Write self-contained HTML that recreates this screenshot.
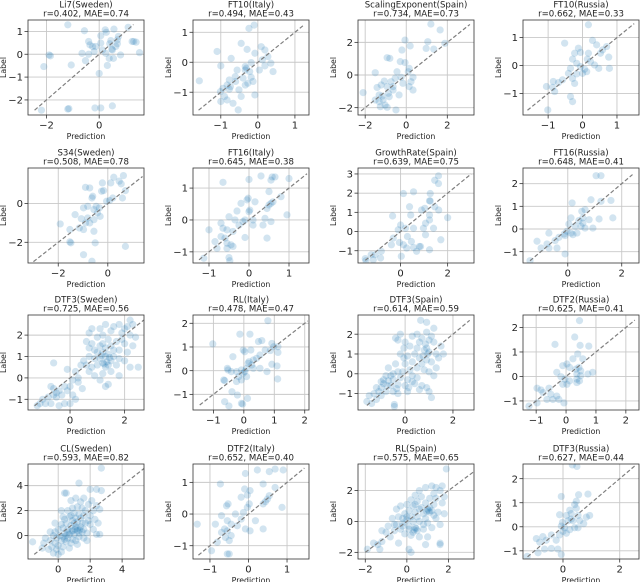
<!DOCTYPE html>
<html><head><meta charset="utf-8"><style>
html,body{margin:0;padding:0;background:#fff;}
svg{display:block;font-family:"DejaVu Sans","Liberation Sans",sans-serif;}
</style></head><body>
<svg id="fig" width="642" height="582" viewBox="0 0 642 582" xmlns="http://www.w3.org/2000/svg"></svg>
<script>
const titles=["Li7(Sweden)","FT10(Italy)","ScalingExponent(Spain)","FT10(Russia)","S34(Sweden)","FT16(Italy)","GrowthRate(Spain)","FT16(Russia)","DTF3(Sweden)","RL(Italy)","DTF3(Spain)","DTF2(Russia)","CL(Sweden)","DTF2(Italy)","RL(Spain)","DTF3(Russia)"];
const rValues=["0.402","0.494","0.734","0.662","0.508","0.645","0.639","0.648","0.725","0.478","0.614","0.625","0.593","0.652","0.575","0.627"];
const maeValues=["0.74","0.43","0.73","0.33","0.78","0.38","0.75","0.41","0.56","0.47","0.59","0.41","0.82","0.40","0.65","0.44"];
const xLims=[[-2.7,1.7],[-1.75,1.38],[-2.35,3.3],[-1.73,1.64],[-3.22,1.46],[-1.4,1.5],[-1.81,3.12],[-1.66,2.64],[-1.54,2.71],[-1.67,2.14],[-1.97,2.88],[-1.44,2.44],[-1.89,5.37],[-1.44,1.57],[-2.35,3.23],[-1.41,2.68]];
const yLims=[[-2.66,1.5],[-1.76,1.41],[-2.45,3.37],[-1.77,1.63],[-3.07,1.84],[-1.35,1.63],[-1.64,3.31],[-1.5,2.69],[-1.5,2.94],[-1.66,2.35],[-1.83,2.97],[-1.37,2.51],[-1.87,5.73],[-1.42,1.58],[-2.43,3.72],[-1.34,2.61]];
const xTicks=[[-2,0],[-1,0,1],[-2,0,2],[-1,0,1],[-2,0],[-1,0,1],[0,2],[0,2],[0,2],[-1,0,1,2],[0,2],[-1,0,1,2],[0,2,4],[-1,0,1],[-2,0,2],[0,2]];
const yTicks=[[-2,-1,0,1],[-1,0,1],[-2,0,2],[-1,0,1],[-2,0],[-1,0,1],[-1,0,1,2,3],[-1,0,1,2],[-1,0,1,2],[-1,0,1,2],[-1,0,1,2],[-1,0,1,2],[0,2,4],[-1,0,1],[-2,0,2],[-1,0,1,2]];
const diagRange=[[-2.45,1.3],[-1.6,1.25],[-2.2,3.1],[-1.6,1.5],[-3,1.4],[-1.25,1.45],[-1.5,3],[-1.4,2.4],[-1.3,2.7],[-1.45,2.1],[-1.6,2.7],[-1.25,2.3],[-1.5,5.4],[-1.3,1.45],[-2,3.4],[-1.25,2.55]];

const p1=[[-1.19,1.29],[-1.9,-0.03],[-1.85,-0.07],[-2.1,-0.54],[-2.19,-2.45],[-1.19,-2.4],[-1.15,-2.38],[-0.16,-2.35],[0.06,-2.35],[0.5,-2.26],[-1.06,-0.47],[-0.56,1.03],[-0.65,0.04],[-0.52,-0.28],[-0.4,0.56],[-0.35,0.41],[-0.25,0.34],[-0.4,0],[-0.19,0.12],[0,-0.84],[0.06,0.49],[0.06,0.81],[0.23,1.07],[0.27,0.96],[0.13,0.19],[0.25,0.04],[0.4,0.46],[0.48,0.22],[0.38,-0.18],[0.54,-0.18],[0.31,-0.49],[0.56,1.1],[0.69,0.46],[0.69,0.63],[0.73,0.78],[0.63,0.34],[0.5,0.19],[0.81,-0.03],[1.1,1.18],[1.25,0.56],[1.31,0.56],[1.4,0.53],[1.53,0.07],[-0.13,0.34],[0.44,0.6]];
const p2=[[-0.1,1.24],[-0.24,1.13],[-1.1,0.36],[-0.72,0.13],[-1,-0.12],[-1.58,-0.62],[-0.45,0.63],[-0.29,0.43],[0.09,0.52],[-0.08,0.3],[0.19,0.41],[0.35,-0.03],[0.12,0.08],[0.27,0.19],[0.41,-0.31],[0.19,-0.12],[0.04,-0.26],[-0.34,-0.14],[-0.31,-0.2],[-0.56,-0.26],[-0.61,-0.48],[-0.77,-0.59],[-0.83,-0.76],[-0.94,-0.87],[-0.77,-0.9],[-0.9,-1.14],[-1,-1.31],[-0.83,-1.26],[-0.67,-1.37],[-0.51,-0.92],[-0.34,-0.76],[-0.27,-0.7],[-0.4,-0.53],[-0.18,-0.5],[-0.13,-0.64],[-0.08,-1.09],[-0.45,-1.14],[-0.6,-0.64],[-0.74,-0.81],[-0.53,-1.59],[-1.01,-0.98],[-0.34,-0.26],[-0.22,-0.31],[-0.18,-0.01]];
const p3=[[1.2,3.12],[1.65,2.76],[1.05,2.04],[0.97,1.63],[1.34,1.59],[1.88,1.94],[-0.06,2.14],[0.19,1.78],[-0.93,1.06],[-0.8,1.02],[-0.21,1.53],[-0.29,0.82],[-0.06,0.76],[0.14,0.41],[0.1,0.2],[-0.45,0.2],[-0.25,-0.14],[-0.64,-0.71],[0.23,-0.41],[0.14,-0.71],[0.33,-0.92],[-0.16,-0.51],[-2.1,-1.08],[-1.51,0.14],[-1.07,-0.37],[-1.22,-0.61],[-1.42,-0.76],[-0.93,-0.71],[-1.32,-1.22],[-1.17,-1.29],[-1.13,-1.53],[-1.03,-1.84],[-1.26,-1.94],[-0.93,-1.98],[-0.5,-2.14],[-0.83,-1.33],[-0.64,-0.92],[-1.32,-1.63],[-1.51,-1.53],[-0.74,-0.41],[-0.54,-0.2],[-0.35,-1.22],[0.33,-0.14],[-0.87,-1.12]];
const p4=[[0.17,1.46],[-0.52,0.8],[0.29,0.9],[0.41,0.74],[0.7,0.68],[0.58,0.56],[0.52,0.44],[0.76,0.3],[0.78,-0.1],[0.35,0.02],[0.47,-0.1],[0.17,0.44],[-0.06,0.47],[-0.23,0.44],[-0.29,0.23],[-0.17,0.08],[-0.06,-0.04],[0.06,-0.13],[0.12,-0.22],[0,-0.28],[-0.17,-0.3],[-0.41,-0.28],[-0.29,-0.46],[-0.23,-0.64],[-0.58,-0.51],[-0.7,-0.61],[-0.85,-0.57],[-0.87,-0.78],[-1.05,-0.75],[-0.81,-0.93],[-0.35,-1.11],[-0.29,-1.29],[-1.01,-1.59],[0.23,0.14],[-0.12,0.62],[-0.35,-0.1],[0.14,0.23]];
const p5=[[0.63,1.45],[0.24,1.36],[0.46,1.16],[0.54,1.02],[-0.22,1.07],[-0.17,0.67],[-0.25,0.64],[-0.73,0.81],[-0.9,0.84],[0.12,1.07],[0.71,0.67],[0.59,0.29],[0.2,0.29],[-0.05,0.12],[-0.64,0.29],[-0.61,0.38],[-0.81,-0.14],[-0.47,-0.14],[-0.34,-0.22],[-0.98,-0.22],[-1.32,-0.57],[-1.07,-0.78],[-0.81,-0.74],[-0.56,-0.83],[-0.73,-1],[-0.9,-1],[-1.15,-1.26],[-1.92,-1.05],[-1.53,-1.34],[-0.98,-1.34],[-0.56,-1.43],[-1.49,-2.03],[-1.53,-1.98],[-0.51,-2.03],[0.71,-2.21],[-0.98,-2.64],[-0.64,-2.98],[-0.56,-0.31],[-0.42,-0.48],[-0.31,-0.66],[0.07,0.16]];
const p6=[[-0.65,1.18],[0,1.27],[0.3,1.38],[0.58,1.35],[0.65,1.35],[1,1.3],[0.55,1.25],[0.5,0.89],[-0.02,0.68],[-0.05,0.63],[0.15,0.57],[-0.2,0.52],[0.02,0.31],[0,0.26],[-0.3,0.28],[-0.5,0.1],[-0.35,0],[-0.15,-0.05],[-0.1,0],[0.1,0],[0.4,0.05],[0.55,0.52],[0.6,0.57],[0.5,0.47],[0.45,0.36],[0.8,0.73],[0.95,0.16],[0.55,-0.05],[-0.7,-0.1],[-0.65,-0.26],[-0.55,-0.31],[-0.25,-0.16],[-0.4,-0.36],[-1,-0.31],[-0.7,-0.52],[-0.6,-0.57],[-0.1,-0.55],[0.45,-0.57],[-0.55,-0.73],[-0.45,-0.78],[-0.4,-0.83],[-0.8,-0.89],[-0.55,-0.89],[-1.13,-1.2],[-0.5,-1.18],[-0.48,-1.28],[-0.85,-0.68],[0.1,-0.16],[0.35,-0.16]];
const p7=[[1.61,2.9],[1.45,2.67],[1.61,2.5],[0.12,1.98],[0.55,2.07],[1.26,1.98],[1.23,1.6],[1.26,1.59],[1.45,1.29],[1.62,1.12],[2,0.72],[0.38,1.29],[0.89,1.12],[1.03,1.21],[0.43,0.86],[1.23,0.86],[1.23,0.6],[-0.34,0.81],[0,0.34],[-0.1,0.09],[0.21,0.17],[0.55,0.17],[1.06,0.43],[0.97,0.17],[1.4,0.17],[0.29,-0.26],[0.46,-0.52],[1.06,-0.17],[0.8,-0.78],[0.55,-0.83],[1.23,-0.95],[1.71,-0.43],[-0.31,-0.34],[-0.05,-0.57],[0.12,-0.69],[0.26,-0.86],[0.03,-1.29],[-0.39,-0.69],[-0.82,-1.03],[-1.08,-1.21],[-1.25,-1.21],[-1.16,-1.47],[-1.5,-1.41],[-1.47,-1.52],[-0.85,-1.38],[0.85,-0.78],[0.68,-1.03]];
const p8=[[1.05,2.35],[1.23,2.35],[0.16,1.15],[0.86,1.29],[1.23,1.22],[1.6,1.26],[0.64,0.85],[0.52,0.78],[0.56,0.49],[0.41,0.37],[0.79,0.41],[1.16,0.44],[1.67,0.49],[0.12,0.49],[0.04,0.22],[0.27,0.12],[0.49,0.12],[0.56,0.26],[-0.03,-0.1],[0.12,-0.18],[0.34,-0.18],[0.64,0.04],[0.93,0.04],[-0.1,-0.29],[-0.7,-0.18],[-0.33,-0.37],[-0.47,-0.51],[-0.77,-0.66],[-0.99,-0.84],[-0.7,-0.84],[-0.4,-0.84],[-1.14,-0.54],[-0.1,-1.1],[-1.4,-1.4],[-0.13,-0.22],[0.19,-0.25]];
const p9=[[2.2,2.7],[2.3,2.5],[2.1,2.4],[2,2.3],[1.8,2.5],[1.6,2.4],[1.3,2.5],[1.1,2.3],[0.8,2.3],[0.7,2.1],[1.5,2.2],[1.9,2.1],[2.2,2],[2.4,1.9],[1.2,2],[1,1.9],[0.6,1.7],[0.8,1.6],[1.4,1.8],[1.7,1.7],[2,1.6],[2.3,1.5],[1.1,1.5],[1.3,1.4],[1.5,1.5],[1.8,1.3],[2.1,1.2],[0.9,1.3],[1.2,1.2],[1.4,1.1],[1.6,1],[1.3,1],[1.1,0.9],[0.9,0.9],[0.7,1],[1.5,0.8],[1.8,0.9],[2,0.8],[1.2,0.7],[1.4,0.6],[1.3,0.5],[1,0.6],[0.8,0.5],[0.6,0.6],[1.7,0.6],[2.2,0.5],[2.5,0.5],[1.5,0.3],[1.2,0.2],[0.9,0.1],[0.7,0.3],[1.1,-0.1],[1.4,-0.3],[1.3,-0.4],[1.8,0.1],[0.5,0.8],[0.4,0.6],[0.2,0.3],[0.3,0],[1.6,1.3],[1.9,1.8],[1,1.2],[1.2,1.6],[0.7,1.4],[1.35,0.75],[1.25,0.65],[1.45,0.95],[1.15,1.05],[-0.6,0.7],[-0.1,0.4],[-0.7,-0.4],[-0.6,-0.5],[-0.5,-0.7],[-0.4,-0.6],[-0.6,-0.8],[-0.5,-0.9],[-0.3,-0.8],[-0.8,-0.9],[-1,-1],[-1.1,-1.2],[-1.2,-1.3],[-0.9,-1.2],[-0.7,-1.2],[-0.4,-1.3],[-0.2,-1.2],[0,-1.2],[0.1,-0.8],[0.2,-1],[-0.2,-0.4],[0,-0.4],[0.3,-0.2],[0.1,-0.1],[-0.1,-0.6],[0.45,-0.5]];
const p10=[[-1.02,1.13],[-0.13,1.54],[0.2,1.54],[0.79,2.11],[0.48,1.23],[0.59,1.27],[-0.02,0.87],[0.03,0.8],[0.23,0.87],[0.92,1.15],[0.98,1.01],[1.12,1.01],[1.12,0.77],[0.87,0.85],[0.7,0.87],[0.53,0.66],[0.42,0.52],[0.31,0.45],[0.17,0.38],[0.14,0.31],[0.26,0.24],[-0.36,0.59],[0.09,0.1],[0.03,-0.04],[-0.02,-0.11],[-0.08,0.03],[-0.24,-0.04],[-0.41,-0.04],[-0.52,0.03],[-0.54,0.1],[0.53,0.1],[0.76,-0.04],[0.92,0.27],[1.09,0.2],[1.11,-0.35],[0.31,0.1],[-0.17,-0.25],[-0.08,-0.39],[-0.24,-0.46],[-0.66,-0.39],[-0.63,-0.42],[-0.39,-0.89],[-0.21,-1.03],[0.12,-1.17],[-0.63,-1.31],[-0.49,-1.49],[-0.08,-1.38],[-0.04,-1.41],[0.09,-0.25]];
const p11=[[0.65,2.7],[0.9,2.6],[1.2,2.3],[0.9,2.1],[0.5,2],[1.1,1.9],[0.7,1.8],[0.3,1.9],[-0.2,2],[-0.4,1.8],[-0.3,1.7],[0,1.6],[0.6,1.6],[0.85,1.5],[1,1.7],[1.2,1.6],[1.5,1.4],[0.5,1.3],[0.2,1.4],[-0.05,1.3],[0.8,1.2],[1,1.1],[1.3,1],[1.6,1],[0.4,1],[0.1,0.9],[-0.2,1],[0.6,0.8],[0.9,0.7],[1.1,0.6],[1.4,0.8],[0.7,0.5],[0.3,0.6],[0,0.5],[-0.4,0.5],[-0.7,0.3],[0.5,0.3],[0.8,0.2],[1,0.1],[1.2,-0.1],[0.2,0.2],[-0.1,0.1],[-0.3,0.1],[-0.5,0],[-0.8,-0.1],[0.3,-0.1],[0.5,-0.2],[0.1,-0.3],[-0.2,-0.2],[-0.5,-0.3],[-0.7,-0.35],[-1,-0.4],[-0.9,-0.5],[-0.6,-0.6],[-0.3,-0.55],[0,-0.6],[0.4,-0.5],[0.7,-0.6],[0.9,-0.7],[0.6,-0.8],[1,-0.9],[1.1,-1.2],[-1.2,-0.7],[-1.1,-0.9],[-1.3,-1],[-1,-1.1],[-0.8,-0.9],[-0.5,-0.9],[-0.3,-1],[0.1,-0.9],[-1.5,-1.1],[-1.6,-1.4],[-1.4,-1.5],[-1.2,-1.3],[-0.45,-1.55],[-0.45,-1.65],[-0.9,-0.3],[-0.6,-0.1],[-1,-0.7],[0.15,-0.7],[0.9,1.3],[1.3,0.3],[-0.05,0.8],[0.3,-0.4],[0.75,0.9],[0.95,1.0],[-0.35,-0.75],[-0.75,-0.6]];
const p12=[[0.45,2.28],[0.29,1.61],[-0.37,1.31],[0.47,1.27],[0.76,1.24],[0.39,0.92],[0.23,0.72],[0.56,0.72],[0.03,0.51],[-0.11,0.44],[0.12,0.37],[0.33,0.3],[0.43,0.37],[0.49,0.23],[0.89,0.17],[0.73,0.1],[-0.31,0.17],[-0.17,-0.01],[-0.04,-0.11],[0.12,-0.18],[0.36,-0.11],[0.49,0.03],[0.45,-0.18],[-0.11,-0.32],[0.03,-0.32],[0.36,-0.25],[-0.57,-0.48],[-0.84,-0.55],[-0.97,-0.48],[-0.77,-0.66],[-0.51,-0.73],[-0.31,-0.8],[-0.44,-0.94],[-0.64,-0.94],[-0.24,-0.94],[-0.07,-1.08],[-0.97,-1.08],[-1.24,-1.21],[0.36,0.1]];
const p13=[[2.7,5.4],[1.3,4.2],[2,3.7],[2.4,3.7],[2.7,3.6],[0.4,3.4],[0.5,3.4],[1.6,3],[1.1,3],[0.8,2.8],[1.4,2.7],[2.1,2.8],[2.4,2.4],[1.9,2.5],[1.2,2.3],[1.5,2.2],[0.9,2.2],[0.6,2],[0.2,2],[1.7,2],[2.2,2],[2.6,2.1],[1,1.8],[1.3,1.7],[1.6,1.6],[2,1.6],[0.7,1.5],[1.1,1.4],[1.4,1.4],[2.3,1.3],[0.4,1.3],[0.9,1.2],[1.2,1.1],[1.7,1],[2,0.9],[2.5,1],[0.5,1],[0.2,0.9],[0.8,0.8],[1.1,0.7],[1.4,0.7],[1.6,0.5],[2.2,0.5],[0.3,0.6],[0.6,0.5],[0.9,0.4],[1.2,0.4],[1.5,0.3],[1.3,0.2],[0,0.5],[-0.2,0.3],[0.4,0.2],[0.7,0.1],[1,0.1],[1.3,-0.1],[1.8,0.2],[-0.3,0],[0.1,0],[0.3,-0.1],[0.6,-0.2],[0.9,-0.3],[1.1,-0.4],[-0.1,-0.2],[0.2,-0.4],[0.5,-0.5],[0.8,-0.6],[1.2,-0.7],[-0.5,-0.4],[-0.2,-0.6],[0,-0.8],[0.3,-0.9],[0.7,-1],[-0.4,-0.9],[-0.1,-1.1],[0.2,-1.3],[-0.6,-1.1],[-0.3,-1.4],[0,-1.5],[-1,-1],[-1.6,-0.5],[-0.8,-0.2],[0.5,0],[0.6,0.3],[1.8,-0.4],[2.4,0.1],[2.6,0.1],[1,1],[0.3,1.5],[-0.5,0.3],[-0.9,-0.6],[0.4,-0.3],[1.5,1],[0.8,1.6],[1.9,1.2],[-0.2,1],[1.6,-0.2],[1.2,0.6],[1.35,0.45],[0.85,0.3],[1.05,0.5]];
const p14=[[0.69,1.42],[0.23,1.39],[0.9,1.39],[0.54,1.34],[-0.08,1.28],[-0.73,0.95],[0.38,0.95],[0.69,0.84],[-0.1,0.79],[0.04,0.74],[-0.03,0.6],[-0.19,0.53],[-0.53,0.32],[-0.57,0.26],[0.02,0.32],[-0.03,0.21],[0.54,0.58],[0.49,0.47],[0.44,0.39],[0.38,0.32],[0.87,0.21],[-0.7,-0.05],[-0.86,-0.32],[-0.34,0],[-0.19,-0.16],[-0.55,-0.21],[-0.45,-0.32],[-0.62,-0.47],[-0.55,-0.53],[-0.7,-0.58],[-0.45,-0.68],[-0.6,-0.74],[-0.5,-0.84],[-0.08,-0.47],[0.04,-0.53],[0.38,-0.47],[-0.96,-1.16],[-0.55,-1.26],[-0.5,-1.26],[-0.81,-0.89],[-1.33,-0.32],[0.18,-0.21],[-0.29,-0.37],[-0.13,0.05]];
const p15=[[1.9,3.4],[1.7,2.3],[1.4,2.2],[1.2,2.3],[0.9,2.2],[1.6,2],[0.6,2],[0.4,1.7],[0.7,1.6],[1.1,1.5],[1.4,1.5],[1.8,1.6],[0.2,1.4],[0.5,1.3],[0.9,1.2],[1.3,1.1],[1.7,1.2],[0,1.1],[-0.3,1],[0.3,1],[0.7,0.9],[1,0.8],[1.2,0.7],[1.5,0.6],[1.8,0.5],[-0.5,0.8],[0.1,0.7],[0.4,0.6],[0.8,0.5],[1.1,0.6],[1.3,0.4],[-0.1,0.5],[0.2,0.3],[0.5,0.3],[0.9,0.2],[1.4,0.2],[-0.4,0.3],[-0.7,0.2],[0,0.1],[0.3,0],[0.6,0],[1,-0.1],[1.6,-0.2],[-0.2,-0.1],[-0.5,-0.2],[-0.9,-0.3],[0.1,-0.3],[0.4,-0.4],[0.5,-0.6],[0.3,-0.7],[0.8,-0.5],[1.2,-0.4],[-0.3,-0.5],[-0.6,-0.6],[-1,-0.7],[-1.2,-0.6],[-0.1,-0.8],[0.2,-0.9],[0.6,-1],[1,-1],[-0.8,-1],[-1.2,-1.3],[-1.4,-1.5],[-1.6,-1.4],[-1.3,-1.8],[-1.9,-1.8],[-0.4,-1.4],[0.9,-1.5],[1.6,-1.4],[1.6,-1.5],[0.1,-1.8],[0.2,-2],[-0.2,-0.3],[0,0.3],[0.6,0.8],[1.1,0.9],[0.4,1.1],[-0.6,-0.2],[0.8,-0.2],[1.3,1.8],[-0.2,0.2],[0.1,-0.5],[0.45,-0.45],[0.35,-0.55],[1.05,0.7],[0.95,0.65]];
const p16=[[0.33,2.57],[0.49,2.51],[-0.06,1.26],[0.88,1.36],[0.55,1.33],[0.47,1.06],[0.41,0.92],[0.24,0.69],[0.12,0.47],[-0.12,0.5],[0.29,0.55],[0.53,0.47],[0.59,0.25],[0.82,0.4],[0.94,0.47],[0.73,0.13],[0.53,-0.04],[0.35,0.25],[0.18,0.25],[-0.02,0.18],[-0.06,0.03],[0.06,-0.04],[0.24,-0.12],[0.41,-0.04],[0.12,-0.27],[0,-0.19],[-0.12,-0.34],[-0.24,-0.56],[-0.41,-0.34],[-0.71,-0.41],[-0.94,-0.49],[-0.82,-0.64],[-0.59,-0.56],[-0.65,-0.93],[-0.41,-0.9],[-0.18,-0.93],[-0.88,-1.08],[-0.06,-1.15],[-1.26,-1.23],[0.29,0.32],[0.47,0.77]];
const allPoints=[p1,p2,p3,p4,p5,p6,p7,p8,p9,p10,p11,p12,p13,p14,p15,p16];

const NS="http://www.w3.org/2000/svg";
const svg=document.getElementById('fig');
const colLeft=[28,193,358,523], rowTop=[20,168,315,464], PW=116, PH=95;
function mk(tag,attrs,parent){const e=document.createElementNS(NS,tag);for(const k in attrs)e.setAttribute(k,attrs[k]);(parent||svg).appendChild(e);return e;}
function fmt(v){return v<0?'\u2212'+Math.abs(v):String(v);}

for(let i=0;i<16;i++){
  const L=colLeft[i%4], T=rowTop[Math.floor(i/4)];
  const [x0,x1]=xLims[i],[y0,y1]=yLims[i];
  const sx=v=>L+(v-x0)/(x1-x0)*PW;
  const sy=v=>T+PH-(v-y0)/(y1-y0)*PH;
  const g=mk('g',{});
  
  
  const clipId='c'+i;
  const cp=mk('clipPath',{id:clipId},g);mk('rect',{x:L,y:T,width:PW,height:PH},cp);
  // grid
  xTicks[i].forEach(t=>{const l=mk('line',{x1:sx(t),x2:sx(t),y1:T,y2:T+PH,stroke:'#c8c8c8','stroke-width':0.9},g);
    
    mk('line',{x1:sx(t),x2:sx(t),y1:T+PH,y2:T+PH+3.5,stroke:'#333','stroke-width':0.8},g);
    const tx=mk('text',{x:sx(t),y:T+PH+13.5,'text-anchor':'middle','font-size':10,fill:'#222'},g);tx.textContent=fmt(t);
    });
  yTicks[i].forEach(t=>{const l=mk('line',{y1:sy(t),y2:sy(t),x1:L,x2:L+PW,stroke:'#c8c8c8','stroke-width':0.9},g);
    
    mk('line',{y1:sy(t),y2:sy(t),x1:L-3.5,x2:L,stroke:'#333','stroke-width':0.8},g);
    const tx=mk('text',{x:L-5,y:sy(t)+3.6,'text-anchor':'end','font-size':10,fill:'#222'},g);tx.textContent=fmt(t);
    });
  const pg=mk('g',{'clip-path':'url(#'+clipId+')'},g);
  allPoints[i].forEach(p=>{const c=mk('circle',{cx:sx(p[0]),cy:sy(p[1]),r:3.6,fill:'#1f77b4','fill-opacity':0.2},pg);
    });
  const [d0,d1]=diagRange[i];
  const dl=mk('line',{x1:sx(d0),y1:sy(d0),x2:sx(d1),y2:sy(d1),stroke:'#7f7f7f','stroke-width':1.2,'stroke-dasharray':'4,2.2'},pg);
  
  const fr=mk('rect',{x:L,y:T,width:PW,height:PH,fill:'none',stroke:'#333','stroke-width':0.8},g);
  
  const t1=mk('text',{x:L+PW/2,y:T-12.5,'text-anchor':'middle','font-size':8.6,fill:'#222'},g);t1.textContent=titles[i];
  
  const t2=mk('text',{x:L+PW/2,y:T-3.5,'text-anchor':'middle','font-size':8.6,fill:'#222'},g);t2.textContent='r='+rValues[i]+', MAE='+maeValues[i];
  
  const xl=mk('text',{x:L+PW/2,y:T+PH+24,'text-anchor':'middle','font-size':7.8,fill:'#222'},g);xl.textContent='Prediction';
  
  const yx=L-22, yy=T+PH/2;
  const yl=mk('text',{x:yx,y:yy,'text-anchor':'middle','font-size':7.8,fill:'#222',transform:'rotate(-90 '+yx+' '+yy+')'},g);yl.textContent='Label';
  
}
</script>
</body></html>
